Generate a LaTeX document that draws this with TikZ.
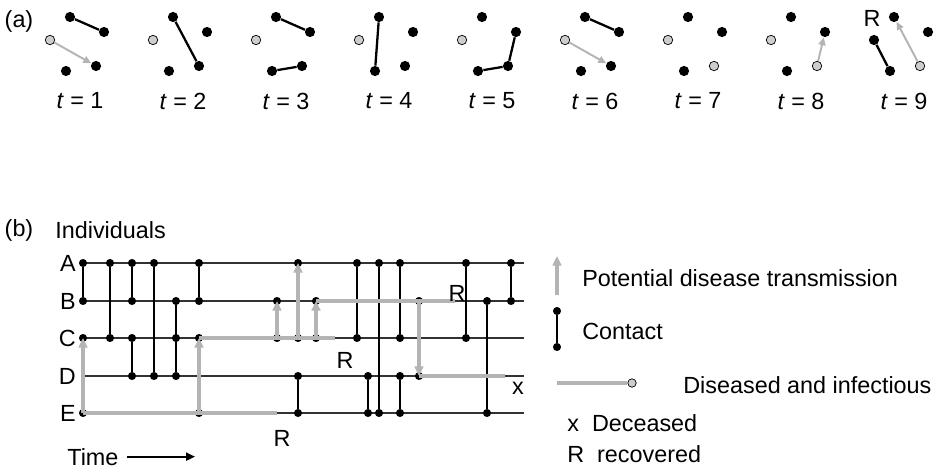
\documentclass[tikz,border=0pt]{standalone}
\usepackage{fontspec}
\setmainfont{Liberation Sans}
\usepackage{xcolor}
\usetikzlibrary{arrows.meta}

\definecolor{infgray}{RGB}{180,180,180}
\definecolor{dotgray}{RGB}{205,205,205}
\definecolor{linegray}{RGB}{50,50,50}

\tikzset{
  dot/.style={circle, fill=black, inner sep=0pt, minimum size=4.6pt},
  well/.style={circle, fill=black, inner sep=0pt, minimum size=5.8pt},
  sick/.style={circle, fill=dotgray, draw=black, line width=0.4pt, inner sep=0pt, minimum size=5.4pt},
  link/.style={line width=1.3pt},
  pass/.style={draw=infgray, line width=1.1pt, -{Triangle[length=4.5pt,width=4pt]}},
  indiv/.style={draw=linegray, line width=0.8pt},
  contact/.style={line width=1pt},
  infected/.style={draw=infgray, line width=1.9pt},
  spread/.style={draw=infgray, line width=1.9pt, -{Triangle[length=5.5pt,width=5pt]}},
  lbl/.style={inner sep=0pt}
}

\begin{document}
\begin{tikzpicture}[x=0.02cm, y=-0.02cm, font=\fontsize{13.3}{16}\selectfont]
    \useasboundingbox (0,0) rectangle (946,470);

    % (a) snapshots of the contact network
    \node[lbl] (tagA) at (19,21) {(a)};
    \foreach \k/\ca/\cd in {1/sick/well, 2/sick/well, 3/sick/well, 4/sick/well, 5/sick/well,
                            6/sick/well, 7/sick/sick, 8/sick/sick, 9/well/sick} {
        \begin{scope}[shift={({(\k-1)*103},0)}]
            \node[\ca] (s\k-l) at (50,40) {};
            \node[well] (s\k-t) at (70,17) {};
            \node[well] (s\k-r) at (104,32) {};
            \node[\cd] (s\k-br) at (96,66) {};
            \node[well] (s\k-bl) at (66,71) {};
            \node[lbl] (step\k) at (80,101) {\textit{t} = \k};
        \end{scope}
    }
    \draw[link] (s1-t) -- (s1-r);
    \draw[pass] (s1-l) -- (s1-br);
    \draw[link] (s2-t) -- (s2-br);
    \draw[link] (s3-t) -- (s3-r);
    \draw[link] (s3-bl) -- (s3-br);
    \draw[link] (s4-t) -- (s4-bl);
    \draw[link] (s5-r) -- (s5-br) -- (s5-bl);
    \draw[link] (s6-t) -- (s6-r);
    \draw[pass] (s6-l) -- (s6-br);
    \draw[pass] (s8-br) -- (s8-r);
    \draw[link] (s9-l) -- (s9-bl);
    \draw[pass] (s9-br) -- (s9-t);
    \node[lbl] (rec9) at (872,18) {R};

    % (b) time lines of the individuals
    \node[lbl] (tagB) at (19,230) {(b)};
    \node[lbl, anchor=west] (indiv) at (55,230) {Individuals};
    \foreach \r/\y in {A/263, B/301, C/338, D/376, E/413} {
        \node[lbl, anchor=east] (name\r) at (76,\y) {\r};
        \coordinate (row\r) at (83,\y);
        \draw[indiv] (row\r) -- (524,\y);
    }

    % contacts
    \foreach \n/\x/\p/\q in {1/83/A/B, 2/110/A/C, 3/132/A/B, 3b/132/C/D, 4/154/A/D, 5/176/B/D,
                             6/199/A/B, 8/298/D/E, 10/357/A/C, 11/368/D/E, 12/379/A/E,
                             13/400/A/C, 13b/400/D/E, 15/466/A/C, 16/487/B/E, 17/511/A/B} {
        \node[dot] (c\n\p) at (\x,0 |- row\p) {};
        \node[dot] (c\n\q) at (\x,0 |- row\q) {};
        \draw[contact] (c\n\p) -- (c\n\q);
    }
    \node[dot] (c5C) at (176,0 |- rowC) {};

    % contacts with an infectious individual
    \foreach \n/\x/\p/\q in {t1/83/E/C, t6/199/E/C, t7/277/C/B, t8/298/C/A, t9/316/C/B, t14/419/B/D} {
        \node[dot] (\n\p) at (\x,0 |- row\p) {};
        \node[dot] (\n\q) at (\x,0 |- row\q) {};
    }

    % infectious periods
    \coordinate (recE) at (277,413);
    \coordinate (recC) at (335,338);
    \coordinate (recB) at (455,301);
    \coordinate (deadD) at (505,376);
    \draw[infected] (t1E.center) -- (recE);
    \draw[infected] (t6C.center) -- (recC);
    \draw[infected] (t9B.center) -- (recB);
    \draw[infected] (t14D.center) -- (deadD);
    \foreach \n/\p/\q in {t1/E/C, t6/E/C, t7/C/B, t8/C/A, t9/C/B, t14/B/D}
        \draw[spread] (\n\p.center) -- (\n\q.center);
    \node[lbl] (markE) at (282,438) {R};
    \node[lbl] (markC) at (345,360) {R};
    \node[lbl, anchor=base] (markB) at (457,301) {R};
    \node[lbl] (markD) at (518,388) {x};

    % time axis
    \node[lbl, anchor=base west] (time) at (67,465) {Time};
    \coordinate (timeEnd) at (195,456);
    \draw[line width=1pt, -{Triangle[length=5pt,width=4.5pt]}] ([xshift=4.5pt]time.east) -- (timeEnd |- time.east);

    % legend
    \coordinate (legS0) at (557,295);
    \coordinate (legS1) at (557,256);
    \draw[spread] (legS0) -- (legS1);
    \node[lbl, anchor=base west] (legSt) at (582,286) {Potential disease transmission};
    \node[dot] (legC0) at (557,311) {};
    \node[dot] (legC1) at (557,347) {};
    \draw[contact] (legC0) -- (legC1);
    \node[lbl, anchor=base west] (legCt) at (582,339) {Contact};
    \coordinate (legI0) at (557,383);
    \node[sick, minimum size=4.8pt] (legI1) at (632,383) {};
    \draw[infected] (legI0) -- (legI1);
    \node[lbl, anchor=base west] (legIt) at (683,393) {Diseased and infectious};
    \node[lbl, anchor=base west] (legX) at (567,431) {x\ \ Deceased};
    \node[lbl, anchor=base west] (legR) at (567,462) {R\ \ recovered};
\end{tikzpicture}
\end{document}
